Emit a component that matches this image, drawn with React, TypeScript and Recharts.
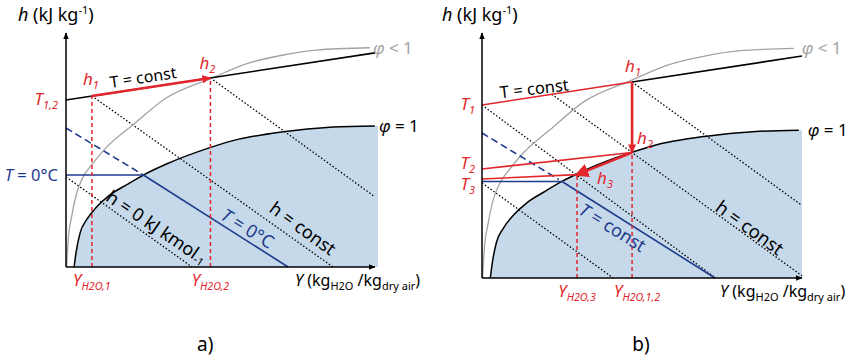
import React from 'react';
import { ComposedChart, Line, Area, XAxis, YAxis, ReferenceDot } from 'recharts';

// Mollier h-Y schematics, units are arbitrary diagram units (0..10 on both axes)

const PHI_SAT = [
  { x: 0.26, y: 0 }, { x: 0.32, y: 0.6 }, { x: 0.45, y: 1.45 }, { x: 0.66, y: 2.02 },
  { x: 0.98, y: 2.56 }, { x: 1.41, y: 3.08 }, { x: 1.95, y: 3.52 }, { x: 2.48, y: 3.93 },
  { x: 3.22, y: 4.4 }, { x: 4.59, y: 5.09 }, { x: 5.35, y: 5.4 }, { x: 6.96, y: 5.78 },
  { x: 8.56, y: 5.98 }, { x: 9.9, y: 6.03 },
];
const SAT_FILL = [...PHI_SAT, { x: 10, y: 6.03 }];

const PHI_LOW = [
  { x: 0.02, y: 0 }, { x: 0.07, y: 1.15 }, { x: 0.18, y: 2.15 }, { x: 0.34, y: 3.15 },
  { x: 0.55, y: 3.85 }, { x: 0.86, y: 4.43 }, { x: 1.28, y: 5.09 }, { x: 2.14, y: 6.07 },
  { x: 3.21, y: 7.22 }, { x: 4.65, y: 8.06 }, { x: 5.87, y: 8.72 }, { x: 6.96, y: 9.06 },
  { x: 8.01, y: 9.27 }, { x: 9.74, y: 9.37 },
];

// panel a)
const A_H1 = { x: 0.83, y: 7.31 };
const A_H2 = { x: 4.63, y: 8.08 };
const A_T_LINE = [{ x: 0, y: 7.14 }, { x: 9.9, y: 9.15 }];
const A_PROCESS = [A_H1, A_H2];
const A_Y1 = [{ x: 0.83, y: 0 }, A_H1];
const A_Y2 = [{ x: 4.63, y: 0 }, A_H2];
const A_ZERO_H = [{ x: 0, y: 3.93 }, { x: 2.48, y: 3.93 }];
const A_ZERO_DASH = [{ x: 0, y: 5.94 }, { x: 2.48, y: 3.93 }];
const A_ZERO_T = [{ x: 2.48, y: 3.93 }, { x: 7.12, y: 0 }];
const A_ISENTH = [
  [{ x: 0, y: 3.85 }, { x: 4.04, y: 0 }],
  [A_H1, { x: 8.56, y: 0 }],
  [A_H2, { x: 9.9, y: 3.0 }],
];

// panel b)
const B_H1 = { x: 4.69, y: 8.0 };
const B_H2 = { x: 4.69, y: 5.12 };
const B_H3 = { x: 2.97, y: 4.22 };
const B_T1 = [{ x: 0, y: 7.06 }, B_H1];
const B_T1_REST = [B_H1, { x: 10, y: 9.06 }];
const B_T2 = [{ x: 0, y: 4.45 }, B_H2];
const B_T3 = [{ x: 0, y: 4.04 }, B_H3];
const B_COOL = [B_H1, B_H2];
const B_COND = [B_H2, B_H3];
const B_Y3 = [{ x: 2.97, y: 0 }, B_H3];
const B_Y12 = [{ x: 4.69, y: 0 }, B_H2];
const B_BLUE_H = [{ x: 0, y: 3.94 }, { x: 2.5, y: 3.94 }];
const B_BLUE_DASH = [{ x: 0, y: 5.92 }, { x: 2.4, y: 4.02 }];
const B_BLUE_T = [{ x: 2.5, y: 3.94 }, { x: 7.28, y: 0 }];
const B_ISENTH = [
  [B_H1, { x: 10, y: 2.96 }],
  [{ x: 2.18, y: 7.5 }, { x: 10, y: 0.09 }],
  [{ x: 0, y: 7.06 }, { x: 7.3, y: 0 }],
  [{ x: 0, y: 3.88 }, { x: 4.1, y: 0 }],
];

const RED = '#e2262c';
const BLUE = '#1f3b8d';
const GRAY = '#a3a3a3';
const FILL = '#c5d9ea';
const FONT = '"Noto Sans", "DejaVu Sans", sans-serif';

const seg = (key: string, data: any[], stroke: string, width: number, dash?: string, marker?: string, curve = 'linear') => (
  <Line key={key} data={data} dataKey="y" type={curve as any} stroke={stroke} strokeWidth={width}
    strokeDasharray={dash} markerEnd={marker} dot={false} activeDot={false}
    isAnimationActive={false} legendType="none" />
);

const note = (key: string, x: number, y: number, render: (cx: number, cy: number) => React.ReactElement) => (
  <ReferenceDot key={key} x={x} y={y} r={1} fill="none" stroke="none" ifOverflow="visible" isFront
    shape={(p: any) => render(p.cx, p.cy)} />
);

const tilted = (cx: number, cy: number, angle: number, color: string, body: React.ReactNode, size = 18) => (
  <text x={cx} y={cy} textAnchor="middle" dominantBaseline="central" fill={color}
    fontFamily={FONT} fontSize={size} transform={`rotate(${angle} ${cx} ${cy})`}>{body}</text>
);

const sub = (s: string, italic = false, size = 11) => (
  <tspan fontSize={size} dy={4} fontStyle={italic ? 'italic' : 'normal'}>{s}</tspan>
);

const markers = (p: string) => (
  <defs>
    <marker id={p + 'red'} viewBox="0 0 10 10" refX="9" refY="5" markerWidth="9" markerHeight="9"
      markerUnits="userSpaceOnUse" orient="auto">
      <path d="M0,0.5 L10,5 L0,9.5 z" fill={RED} />
    </marker>
    <marker id={p + 'redBig'} viewBox="0 0 10 10" refX="8" refY="5" markerWidth="14" markerHeight="14"
      markerUnits="userSpaceOnUse" orient="auto">
      <path d="M0,0 L10,5 L0,10 z" fill={RED} />
    </marker>
    <marker id={p + 'axis'} viewBox="0 0 10 10" refX="9" refY="5" markerWidth="7" markerHeight="7"
      markerUnits="userSpaceOnUse" orient="auto">
      <path d="M0,1 L10,5 L0,9 z" fill="#000" />
    </marker>
  </defs>
);

const hTitle = (cx: number, cy: number, dx: number) => (
  <text x={cx + dx} y={cy - 12} fontFamily={FONT} fontSize={18} fill="#000">
    <tspan fontStyle="italic">h</tspan> (kJ kg<tspan fontSize={11} dy={-7}>-1</tspan><tspan dy={7}>)</tspan>
  </text>
);

const yTitle = (cx: number, cy: number, dx: number) => (
  <text x={cx + dx} y={cy + 19} fontFamily={FONT} fontSize={16} fill="#000">
    <tspan fontStyle="italic">Y</tspan> (kg{sub('H2O')}<tspan dy={-4}> /kg</tspan>{sub('dry air')}<tspan dy={-4}>)</tspan>
  </text>
);

const redLabel = (cx: number, cy: number, main: string, s: string, anchor: string, dx: number, dy: number, size = 17) => (
  <text x={cx + dx} y={cy + dy} textAnchor={anchor as any} fontFamily={FONT} fontSize={size} fill={RED} fontStyle="italic">
    {main}{sub(s, true, size * 0.65)}
  </text>
);

const PanelA = () => (
  <ComposedChart width={430} height={358} margin={{ top: 33, right: 52, bottom: 91, left: 66 }}>
    {markers('a')}
    <XAxis type="number" dataKey="x" domain={[0, 10]} hide />
    <YAxis type="number" domain={[0, 10]} hide />
    <Area data={SAT_FILL} dataKey="y" type="monotone" fill={FILL} fillOpacity={1} stroke="none"
      isAnimationActive={false} legendType="none" />
    {A_ISENTH.map((d, i) => seg('ai' + i, d, '#000', 1.3, '1.5 2'))}
    {seg('alow', PHI_LOW, GRAY, 1.3, undefined, undefined, 'monotone')}
    {seg('asat', PHI_SAT, '#000', 1.5, undefined, undefined, 'monotone')}
    {seg('aT', A_T_LINE, '#000', 1.6)}
    {seg('aZh', A_ZERO_H, BLUE, 1.6)}
    {seg('aZd', A_ZERO_DASH, BLUE, 1.6, '7 4')}
    {seg('aZt', A_ZERO_T, BLUE, 1.6)}
    {seg('aY1', A_Y1, RED, 1.5, '4 3')}
    {seg('aY2', A_Y2, RED, 1.5, '4 3')}
    {seg('aP', A_PROCESS, RED, 2.6, undefined, 'url(#ared)')}
    {seg('axX', [{ x: 0, y: 0 }, { x: 9.9, y: 0 }], '#000', 1.5, undefined, 'url(#aaxis)')}
    {seg('axY', [{ x: 0, y: 0 }, { x: 0, y: 10 }], '#000', 1.5, undefined, 'url(#aaxis)')}

    {note('t1', 0, 10, (cx, cy) => hTitle(cx, cy, -48))}
    {note('t2', 9.9, 0, (cx, cy) => yTitle(cx, cy, -80))}
    {note('t3', 0, 7.14, (cx, cy) => redLabel(cx, cy, 'T', '1,2', 'end', -8, 5))}
    {note('t4', 0, 3.93, (cx, cy) => (
      <text x={cx - 8} y={cy + 6} textAnchor="end" fontFamily={FONT} fontSize={16.5} fill={BLUE}>
        <tspan fontStyle="italic">T</tspan> = 0°C
      </text>
    ))}
    {note('t5', A_H1.x, A_H1.y, (cx, cy) => redLabel(cx, cy, 'h', '1', 'start', -9, -11))}
    {note('t6', A_H2.x, A_H2.y, (cx, cy) => redLabel(cx, cy, 'h', '2', 'start', -11, -9))}
    {note('t7', 2.47, 8.12, (cx, cy) => tilted(cx, cy, -8.5, '#000', 'T = const', 16))}
    {note('t8', 9.74, 9.37, (cx, cy) => (
      <text x={cx + 3} y={cy + 6} fontFamily={FONT} fontSize={17} fill={GRAY}>
        <tspan fontStyle="italic">φ</tspan> &lt; 1
      </text>
    ))}
    {note('t9', 9.9, 6.03, (cx, cy) => (
      <text x={cx + 4} y={cy + 6} fontFamily={FONT} fontSize={17} fill="#000">
        <tspan fontStyle="italic">φ</tspan> = 1
      </text>
    ))}
    {note('t10', 2.92, 1.72, (cx, cy) => tilted(cx, cy, 34, '#000',
      <>h = 0 kJ kmol<tspan fontSize={11} dy={4}>-1</tspan></>))}
    {note('t11', 5.83, 1.67, (cx, cy) => tilted(cx, cy, 32, BLUE, <><tspan fontStyle="italic">T</tspan> = 0°C</>))}
    {note('t12', 7.6, 1.67, (cx, cy) => tilted(cx, cy, 36, '#000', 'h = const'))}
    {note('t13', 0.83, 0, (cx, cy) => redLabel(cx, cy, 'Y', 'H2O,1', 'middle', 0, 19, 16.5))}
    {note('t14', 4.63, 0, (cx, cy) => redLabel(cx, cy, 'Y', 'H2O,2', 'middle', 0, 19, 16.5))}
    {note('t15', 4.46, 0, (cx, cy) => (
      <text x={cx} y={cy + 84} textAnchor="middle" fontFamily={FONT} fontSize={19} fill="#000">a)</text>
    ))}
  </ComposedChart>
);

const PanelB = () => (
  <ComposedChart width={425} height={358} margin={{ top: 33, right: 53, bottom: 80, left: 52 }}>
    {markers('b')}
    <XAxis type="number" dataKey="x" domain={[0, 10]} hide />
    <YAxis type="number" domain={[0, 10]} hide />
    <Area data={SAT_FILL} dataKey="y" type="monotone" fill={FILL} fillOpacity={1} stroke="none"
      isAnimationActive={false} legendType="none" />
    {B_ISENTH.map((d, i) => seg('bi' + i, d, '#000', 1.3, '1.5 2'))}
    {seg('blow', PHI_LOW, GRAY, 1.3, undefined, undefined, 'monotone')}
    {seg('bsat', PHI_SAT, '#000', 1.5, undefined, undefined, 'monotone')}
    {seg('bTr', B_T1_REST, '#000', 1.6)}
    {seg('bBh', B_BLUE_H, BLUE, 1.6)}
    {seg('bBd', B_BLUE_DASH, BLUE, 1.6, '7 4')}
    {seg('bBt', B_BLUE_T, BLUE, 1.6)}
    {seg('bT1', B_T1, RED, 1.6)}
    {seg('bT2', B_T2, RED, 1.6)}
    {seg('bT3', B_T3, RED, 1.6)}
    {seg('bY3', B_Y3, RED, 1.5, '4 3')}
    {seg('bY12', B_Y12, RED, 1.5, '4 3')}
    {seg('bC', B_COOL, RED, 2.6, undefined, 'url(#bred)')}
    {seg('bD', B_COND, RED, 2.6, undefined, 'url(#bredBig)')}
    {seg('bxX', [{ x: 0, y: 0 }, { x: 10, y: 0 }], '#000', 1.5, undefined, 'url(#baxis)')}
    {seg('bxY', [{ x: 0, y: 0 }, { x: 0, y: 10 }], '#000', 1.5, undefined, 'url(#baxis)')}

    {note('u1', 0, 10, (cx, cy) => hTitle(cx, cy, -40))}
    {note('u2', 10, 0, (cx, cy) => yTitle(cx, cy, -82))}
    {note('u3', 0, 7.06, (cx, cy) => redLabel(cx, cy, 'T', '1', 'end', -7, 5))}
    {note('u4', 0, 4.45, (cx, cy) => redLabel(cx, cy, 'T', '2', 'end', -7, 0))}
    {note('u5', 0, 4.04, (cx, cy) => redLabel(cx, cy, 'T', '3', 'end', -7, 11))}
    {note('u6', B_H1.x, B_H1.y, (cx, cy) => redLabel(cx, cy, 'h', '1', 'start', -7, -10))}
    {note('u7', B_H2.x, B_H2.y, (cx, cy) => redLabel(cx, cy, 'h', '2', 'start', 5, -9))}
    {note('u8', B_H3.x, B_H3.y, (cx, cy) => redLabel(cx, cy, 'h', '3', 'start', 20, 9))}
    {note('u9', 1.63, 7.76, (cx, cy) => tilted(cx, cy, -6.5, '#000', 'T = const', 16.5))}
    {note('u10', 9.74, 9.37, (cx, cy) => (
      <text x={cx + 8} y={cy + 6} fontFamily={FONT} fontSize={17} fill={GRAY}>
        <tspan fontStyle="italic">φ</tspan> &lt; 1
      </text>
    ))}
    {note('u11', 9.9, 6.03, (cx, cy) => (
      <text x={cx + 9} y={cy + 6} fontFamily={FONT} fontSize={17} fill="#000">
        <tspan fontStyle="italic">φ</tspan> = 1
      </text>
    ))}
    {note('u12', 4.09, 2.08, (cx, cy) => tilted(cx, cy, 32, BLUE, <><tspan fontStyle="italic">T</tspan> = const</>))}
    {note('u13', 8.38, 2.08, (cx, cy) => tilted(cx, cy, 36, '#000', 'h = const', 18.5))}
    {note('u14', B_H3.x, 0, (cx, cy) => redLabel(cx, cy, 'Y', 'H2O,3', 'middle', 0, 19, 16.5))}
    {note('u15', B_H2.x, 0, (cx, cy) => redLabel(cx, cy, 'Y', 'H2O,1,2', 'middle', 5, 19, 16.5))}
    {note('u16', 4.97, 0, (cx, cy) => (
      <text x={cx} y={cy + 73} textAnchor="middle" fontFamily={FONT} fontSize={19} fill="#000">b)</text>
    ))}
  </ComposedChart>
);

export default function App() {
  return (
    <div style={{ position: 'absolute', left: 0, top: 0, width: 855, height: 358, background: '#fff', fontFamily: FONT }}>
      <div style={{ position: 'absolute', left: 0, top: 0 }}><PanelA /></div>
      <div style={{ position: 'absolute', left: 430, top: 0 }}><PanelB /></div>
    </div>
  );
}
